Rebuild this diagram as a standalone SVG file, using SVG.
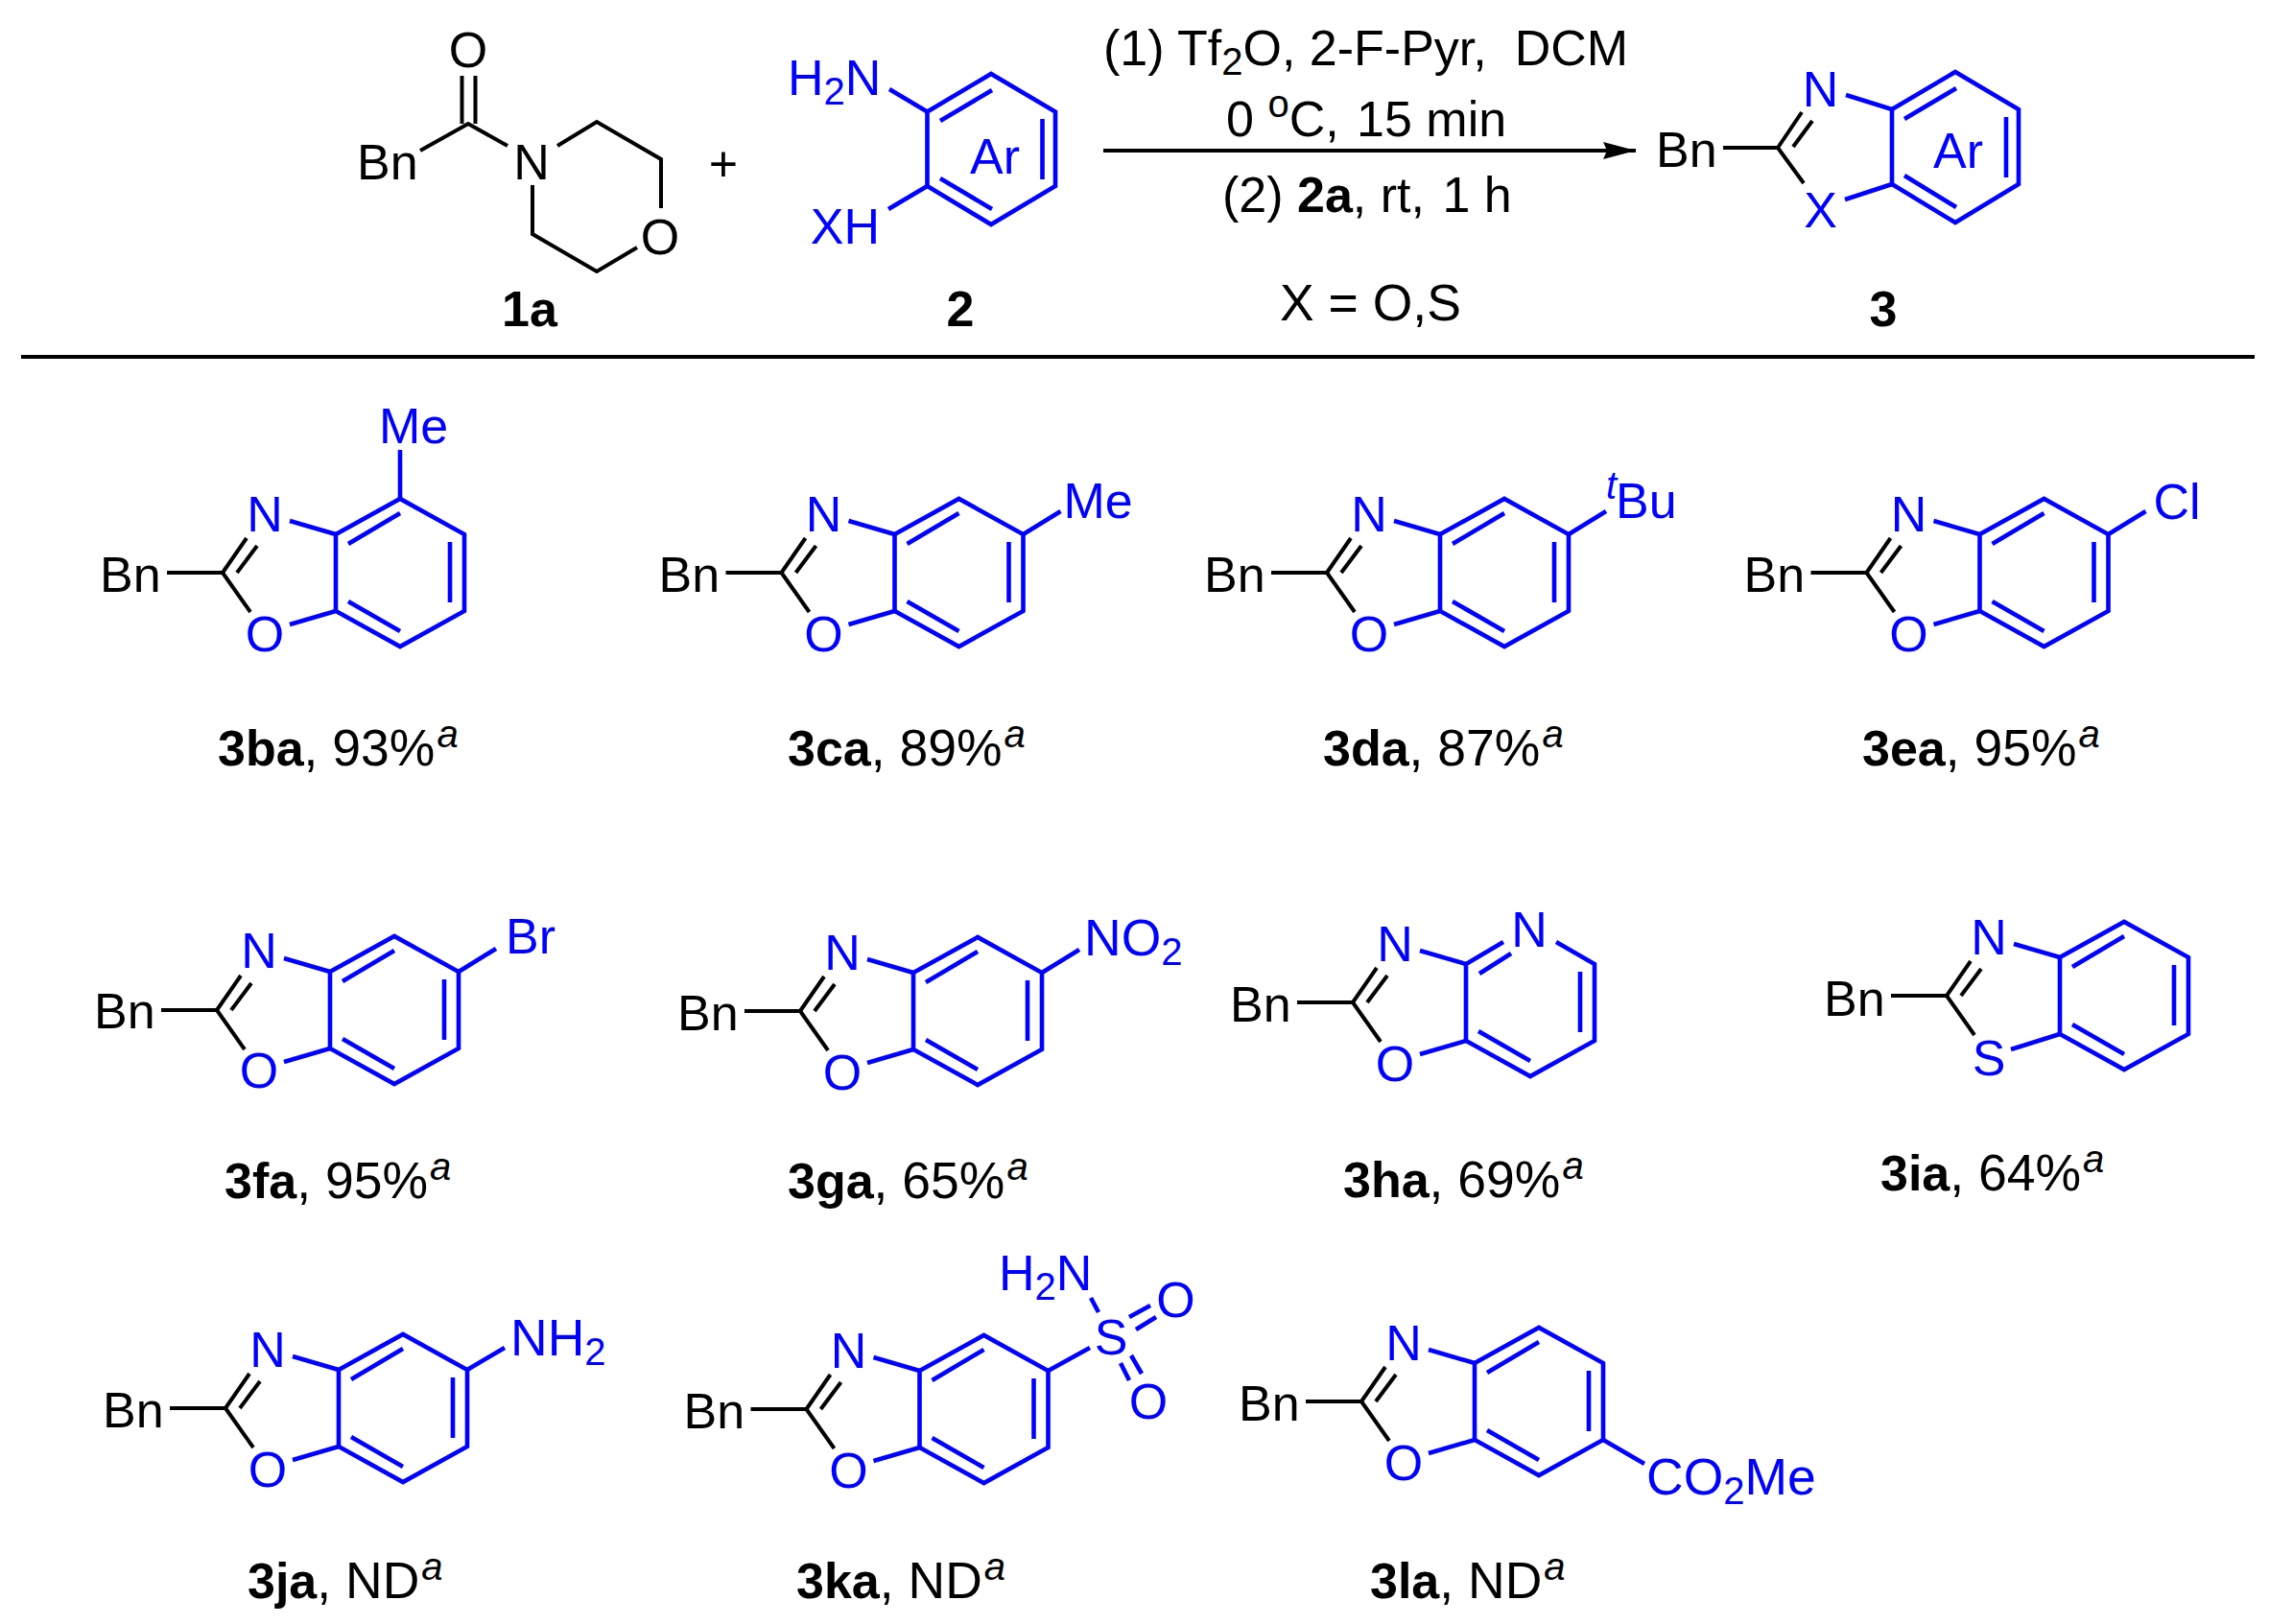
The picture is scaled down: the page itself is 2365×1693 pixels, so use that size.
<svg xmlns="http://www.w3.org/2000/svg" xmlns:xlink="http://www.w3.org/1999/xlink" width="2365" height="1693" viewBox="0 0 2365 1693">
<style>
text{font-family:"Liberation Sans",Arial,sans-serif;font-size:52px;fill:#000}
.u{fill:#00f}
.m{text-anchor:middle}
.e{text-anchor:end}
.h{font-weight:700}
.s{font-size:40px}
.y{font-size:53.5px}
.i{font-style:italic;font-size:40px}
.kb line,.kb polyline{stroke:#000;stroke-width:4;fill:none}
.ku line,.ku polyline,.ku polygon{stroke:#00f;stroke-width:4.6;fill:none;stroke-linejoin:miter}
</style>
<defs>
<marker id="arrow" markerUnits="userSpaceOnUse" markerWidth="36" markerHeight="20" refX="34" refY="10" orient="auto"><path d="M0 1L34 10L0 19L4 10Z" fill="#000"/></marker>
<g id="imine" class="kb"><line x1="-58" y1="0" x2="0" y2="0"/><line x1="0" y1="0" x2="25" y2="-36"/><line x1="15" y1="0" x2="36" y2="-28"/><line x1="0" y1="0" x2="29" y2="41"/></g>
<g id="ring" class="ku"><line x1="70" y1="-54" x2="118" y2="-40"/><line x1="70" y1="54" x2="118" y2="40"/><polygon points="118,-40 185,-77 252,-40 252,40 185,77 118,40"/><line x1="131" y1="-30" x2="185" y2="-62"/><line x1="237" y1="-32" x2="237" y2="31"/><line x1="131" y1="30" x2="185" y2="61"/></g>
</defs>
<rect width="2365" height="1693" fill="#fff"/>

<g id="connectors">
<line x1="1150" y1="157" x2="1705" y2="157" stroke="#000" stroke-width="4" marker-end="url(#arrow)"/>
<line x1="22" y1="372" x2="2350" y2="372" stroke="#000" stroke-width="4"/>
</g>

<g id="reactant-1a">
<g class="kb"><line x1="481.5" y1="79" x2="481.5" y2="129"/><line x1="495.5" y1="79" x2="495.5" y2="129"/><polyline points="438,157 488,129 529,152"/><polyline points="581,152 622,127 689,166 689,217"/><polyline points="664,258 622,283 555,244 555,193"/></g>
<text x="488" y="70" class="m">O</text>
<text x="372" y="187">Bn</text>
<text x="554" y="187" class="m">N</text>
<text x="688" y="265" class="m">O</text>
<text x="523" y="340" class="h">1a</text>
</g>

<g id="plus"><text x="754" y="189" class="m">+</text></g>

<g id="reactant-2">
<g class="ku"><line x1="927" y1="93" x2="966.5" y2="116.5"/><line x1="926" y1="218" x2="966.5" y2="194"/><polygon points="966.5,116.5 1033,77 1100,116.5 1100,194 1033,234 966.5,194"/><line x1="980" y1="126" x2="1034" y2="94"/><line x1="1086.5" y1="124" x2="1086.5" y2="187"/><line x1="980" y1="186" x2="1034" y2="218"/></g>
<text x="821" y="99" class="u">H<tspan class="s" dy="10">2</tspan><tspan dy="-10">N</tspan></text>
<text x="917" y="254" class="u e">XH</text>
<text x="1011" y="181" class="u">Ar</text>
<text x="1001" y="340" class="h m">2</text>
</g>

<g id="conditions">
<text x="1150" y="68" xml:space="preserve">(1) Tf<tspan class="s" dy="10">2</tspan><tspan dy="-10">O, 2-F-Pyr,  DCM</tspan></text>
<text x="1278" y="142">0 <tspan class="s" dy="-20">o</tspan><tspan dy="20">C, </tspan><tspan dx="4">15 min</tspan></text>
<text x="1274" y="221">(2) <tspan class="h">2a</tspan>, rt, <tspan dx="4">1 h</tspan></text>
<text x="1334" y="334" class="y">X = O,S</text>
</g>

<g id="product-3">
<g class="kb"><line x1="1796" y1="154" x2="1853" y2="154"/><line x1="1853" y1="154" x2="1878" y2="117"/><line x1="1869" y1="153" x2="1889" y2="126"/><line x1="1853" y1="154" x2="1880" y2="191"/></g>
<g class="ku"><line x1="1924" y1="99" x2="1972" y2="114"/><line x1="1923" y1="208" x2="1972" y2="192"/><polygon points="1972,114 2038,75 2104,114 2104,192 2038,232 1972,192"/><line x1="1985" y1="124" x2="2039" y2="92"/><line x1="2091" y1="122" x2="2091" y2="185"/><line x1="1985" y1="183" x2="2039" y2="216"/></g>
<text x="1726" y="174">Bn</text>
<text x="1897.5" y="111" class="u m">N</text>
<text x="1897.5" y="237" class="u m">X</text>
<text x="2015" y="175" class="u">Ar</text>
<text x="1963" y="340" class="h m">3</text>
</g>

<g id="compound-3ba"><g transform="translate(232,597)"><use href="#imine"/><use href="#ring"/><g class="ku"><line x1="185" y1="-77" x2="185" y2="-128"/></g>
<text x="-128" y="20">Bn</text><text x="44" y="-43" class="u m">N</text><text x="44" y="82" class="u m">O</text><text x="163" y="-135" class="u">Me</text></g>
<text x="227" y="798"><tspan class="h">3ba</tspan><tspan class="y">, 93%</tspan><tspan class="i" dy="-19" dx="2">a</tspan></text></g>

<g id="compound-3ca"><g transform="translate(814.5,597)"><use href="#imine"/><use href="#ring"/><g class="ku"><line x1="252" y1="-40" x2="291" y2="-64"/></g>
<text x="-128" y="20">Bn</text><text x="44" y="-43" class="u m">N</text><text x="44" y="82" class="u m">O</text><text x="294" y="-57" class="u">Me</text></g>
<text x="821" y="798"><tspan class="h">3ca</tspan><tspan class="y">, 89%</tspan><tspan class="i" dy="-19" dx="2">a</tspan></text></g>

<g id="compound-3da"><g transform="translate(1383,597)"><use href="#imine"/><use href="#ring"/><g class="ku"><line x1="252" y1="-40" x2="291" y2="-64"/></g>
<text x="-128" y="20">Bn</text><text x="44" y="-43" class="u m">N</text><text x="44" y="82" class="u m">O</text><text x="291" y="-77" class="u i">t</text><text x="301" y="-57" class="u">Bu</text></g>
<text x="1379" y="798"><tspan class="h">3da</tspan><tspan class="y">, 87%</tspan><tspan class="i" dy="-19" dx="2">a</tspan></text></g>

<g id="compound-3ea"><g transform="translate(1945.5,597)"><use href="#imine"/><use href="#ring"/><g class="ku"><line x1="252" y1="-40" x2="291" y2="-64"/></g>
<text x="-128" y="20">Bn</text><text x="44" y="-43" class="u m">N</text><text x="44" y="82" class="u m">O</text><text x="299" y="-56" class="u">Cl</text></g>
<text x="1941" y="798"><tspan class="h">3ea</tspan><tspan class="y">, 95%</tspan><tspan class="i" dy="-19" dx="2">a</tspan></text></g>

<g id="compound-3fa"><g transform="translate(226,1053)"><use href="#imine"/><use href="#ring"/><g class="ku"><line x1="252" y1="-40" x2="291" y2="-64"/></g>
<text x="-128" y="19">Bn</text><text x="44" y="-44" class="u m">N</text><text x="44" y="81" class="u m">O</text><text x="301" y="-59" class="u">Br</text></g>
<text x="234" y="1249"><tspan class="h">3fa</tspan><tspan class="y">, 95%</tspan><tspan class="i" dy="-19" dx="2">a</tspan></text></g>

<g id="compound-3ga"><g transform="translate(834,1054)"><use href="#imine"/><use href="#ring"/><g class="ku"><line x1="252" y1="-40" x2="291" y2="-64"/></g>
<text x="-128" y="20">Bn</text><text x="44" y="-43" class="u m">N</text><text x="44" y="82" class="u m">O</text><text x="296" y="-58" class="u y">NO<tspan class="s" dy="10">2</tspan></text></g>
<text x="821" y="1249"><tspan class="h">3ga</tspan><tspan class="y">, 65%</tspan><tspan class="i" dy="-19" dx="2">a</tspan></text></g>

<g id="compound-3ha"><g transform="translate(1410,1045)"><use href="#imine"/><g class="ku"><line x1="70" y1="-54" x2="118" y2="-40"/><line x1="70" y1="54" x2="118" y2="40"/><polyline points="157,-63 118,-40 118,40 185,77 252,40 252,-40 212,-63"/><line x1="132" y1="-30" x2="165" y2="-51"/><line x1="237" y1="-32" x2="237" y2="31"/><line x1="131" y1="30" x2="185" y2="61"/></g>
<text x="-128" y="20">Bn</text><text x="44" y="-43" class="u m">N</text><text x="44" y="82" class="u m">O</text><text x="184" y="-58" class="u m">N</text></g>
<text x="1400" y="1248"><tspan class="h">3ha</tspan><tspan class="y">, 69%</tspan><tspan class="i" dy="-19" dx="2">a</tspan></text></g>

<g id="compound-3ia"><g transform="translate(2029,1038)"><use href="#imine"/><g class="ku"><line x1="70" y1="-54" x2="118" y2="-40"/><line x1="67" y1="56" x2="118" y2="40"/><polygon points="118,-40 185,-77 252,-40 252,40 185,77 118,40"/><line x1="131" y1="-30" x2="185" y2="-62"/><line x1="237" y1="-32" x2="237" y2="31"/><line x1="131" y1="30" x2="185" y2="61"/></g>
<text x="-128" y="21">Bn</text><text x="44" y="-43" class="u m">N</text><text x="44" y="83" class="u m">S</text></g>
<text x="1960" y="1241"><tspan class="h">3ia</tspan><tspan class="y">, 64%</tspan><tspan class="i" dy="-19" dx="2">a</tspan></text></g>

<g id="compound-3ja"><g transform="translate(235,1468)"><use href="#imine"/><use href="#ring"/><g class="ku"><line x1="252" y1="-40" x2="291" y2="-63"/></g>
<text x="-128" y="20">Bn</text><text x="44" y="-43" class="u m">N</text><text x="44" y="82" class="u m">O</text><text x="297" y="-55" class="u y">NH<tspan class="s" dy="10">2</tspan></text></g>
<text x="258" y="1666"><tspan class="h">3ja</tspan><tspan class="y">, ND</tspan><tspan class="i" dy="-19" dx="2">a</tspan></text></g>

<g id="compound-3ka"><g transform="translate(840.5,1469)"><use href="#imine"/><use href="#ring"/></g>
<text x="712.5" y="1489">Bn</text><text x="884.5" y="1426" class="u m">N</text><text x="884.5" y="1551" class="u m">O</text>
<g class="ku"><line x1="1092.5" y1="1429" x2="1136" y2="1405"/><line x1="1137" y1="1353" x2="1145" y2="1368"/><line x1="1177" y1="1373" x2="1199" y2="1361"/><line x1="1184" y1="1386" x2="1205" y2="1373"/><line x1="1168" y1="1421" x2="1177" y2="1439"/><line x1="1179" y1="1413" x2="1190" y2="1432"/></g>
<text x="1041" y="1345" class="u">H<tspan class="s" dy="10">2</tspan><tspan dy="-10">N</tspan></text>
<text x="1158" y="1412" class="u m">S</text><text x="1225.5" y="1373" class="u m">O</text><text x="1197" y="1479" class="u m">O</text>
<text x="830" y="1666"><tspan class="h">3ka</tspan><tspan class="y">, ND</tspan><tspan class="i" dy="-19" dx="2">a</tspan></text></g>

<g id="compound-3la"><g transform="translate(1419,1461)"><use href="#imine"/><use href="#ring"/><g class="ku"><line x1="252" y1="40" x2="295" y2="65"/></g>
<text x="-128" y="20">Bn</text><text x="44" y="-43" class="u m">N</text><text x="44" y="82" class="u m">O</text></g>
<text x="1716" y="1558" class="u y">CO<tspan class="s" dy="10">2</tspan><tspan dy="-10">Me</tspan></text>
<text x="1428" y="1666"><tspan class="h">3la</tspan><tspan class="y">, ND</tspan><tspan class="i" dy="-19" dx="2">a</tspan></text></g>
</svg>
